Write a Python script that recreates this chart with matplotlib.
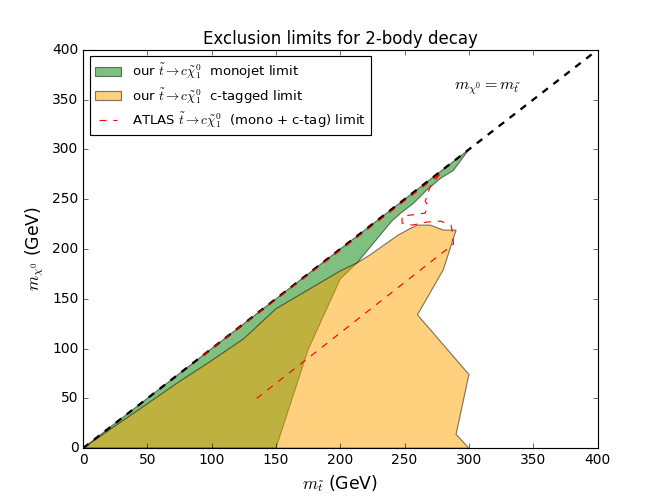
import matplotlib
matplotlib.use("Agg")
import matplotlib.pyplot as plt

plt.style.use("classic")

# monojet limit polygon: diagonal, lower edge of the band, then down the c-tag edge to the axis
mono_x = [0, 300, 288, 278, 267, 257, 247, 240, 213, 200, 175, 150, 0]
mono_y = [0, 300, 279, 271, 259, 246, 236, 228, 186, 170, 99, 0, 0]

# c-tagged limit polygon
ctag_x = [0, 75, 100, 125, 150, 200, 213, 223, 245, 255, 260, 270, 280, 290, 280, 260, 300, 290, 300, 0]
ctag_y = [0, 67, 88, 110, 140, 178, 186, 194, 214, 221, 224, 224, 219, 219, 179, 134, 74, 14, 0, 0]

# ATLAS combined limit contour
atlas_x = [93, 279, 276, 270, 266, 268, 266, 254, 248, 248, 256, 267, 278, 286, 287, 288, 135]
atlas_y = [93, 277, 273, 263, 248, 244, 236, 234, 233, 226, 224, 227, 228, 224, 218, 205, 50]

diag = [0, 400]

fig = plt.figure(figsize=(8, 6), dpi=83)
ax = fig.add_subplot(111)

ax.fill(mono_x, mono_y, facecolor="green", edgecolor="k", alpha=0.5,
        label=r"our $\tilde{t}\rightarrow c\tilde{\chi}_1^0$  monojet limit")
ax.fill(ctag_x, ctag_y, facecolor="orange", edgecolor="k", alpha=0.5,
        label=r"our $\tilde{t}\rightarrow c\tilde{\chi}_1^0$  c-tagged limit")
ax.plot(diag, diag, "k--", lw=2)
ax.plot(atlas_x, atlas_y, "r--",
        label=r"ATLAS $\tilde{t}\rightarrow c\tilde{\chi}_1^0$  (mono + c-tag) limit")

ax.text(288, 360, r"$m_{\chi^0}=m_{\tilde{t}}$", fontsize=14)

ax.set_xlim(0, 400)
ax.set_ylim(0, 400)
ax.set_title("Exclusion limits for 2-body decay")
ax.set_xlabel(r"$m_{\tilde{t}}$ (GeV)", fontsize=15)
ax.set_ylabel(r"$m_{\chi^0}$ (GeV)", fontsize=15)
ax.legend(loc="upper left", fontsize=11.5, labelspacing=0.35)

fig.savefig("out.png", dpi=83)
